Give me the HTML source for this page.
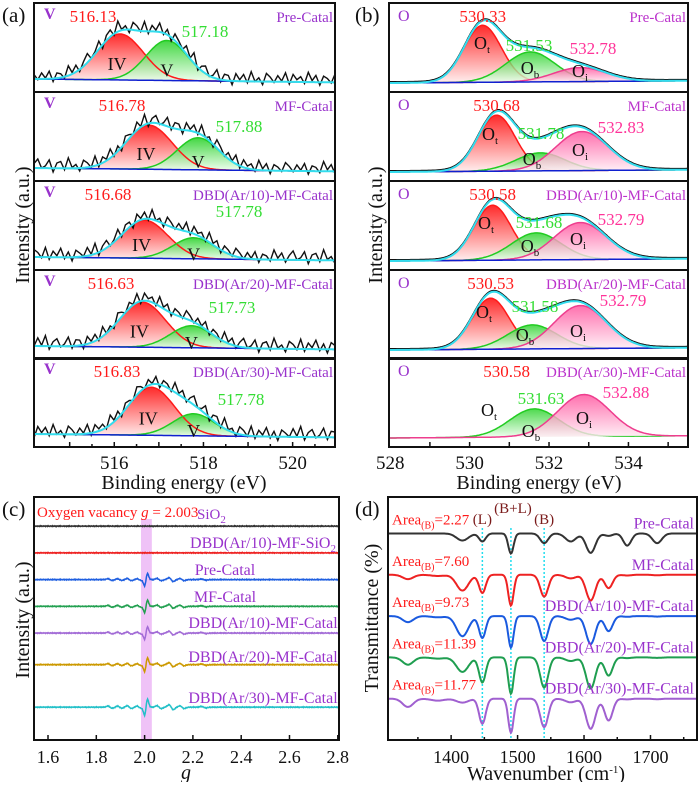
<!DOCTYPE html>
<html><head><meta charset="utf-8"><style>
html,body{margin:0;padding:0;background:#fff;}
svg, svg text{font-family:"Liberation Serif","Times New Roman",Times,"DejaVu Serif",serif;}
</style></head><body>
<svg id="fig" width="700" height="782" viewBox="0 0 700 782" xmlns="http://www.w3.org/2000/svg">
<defs>
<linearGradient id="gRed" x1="0" y1="0" x2="0" y2="1"><stop offset="0" stop-color="#ff2a2a"/><stop offset="1" stop-color="#fff0f0"/></linearGradient>
<linearGradient id="gGreen" x1="0" y1="0" x2="0" y2="1"><stop offset="0" stop-color="#22d022"/><stop offset="1" stop-color="#f0fff0"/></linearGradient>
<linearGradient id="gPink" x1="0" y1="0" x2="0" y2="1"><stop offset="0" stop-color="#ff4d9a"/><stop offset="1" stop-color="#fff0f6"/></linearGradient>
</defs>
<g id="pa"></g>
<g id="pb"></g>
<g id="pc"></g>
<g id="pd"></g>
</svg>
<script>
// ---------- data ----------
const sampleNames = ["Pre-Catal","MF-Catal","DBD(Ar/10)-MF-Catal","DBD(Ar/20)-MF-Catal","DBD(Ar/30)-MF-Catal"];
// panel a: V 2p3/2
const aIVCenter = [516.13,516.78,516.68,516.63,516.83];
const aIVHeight = [46,44,38,45,48];
const aVCenter  = [517.18,517.88,517.78,517.73,517.78];
const aVHeight  = [40,32,21,22,22];
const aTicks = [516,518,520];
const noise = [2,-5,4,-3,6,-8,3,1,-6,9,-2,5,-7,2,8,-4,-1,7,-9,3,5,-6,10,-3,1,-8,6,2,-5,9,-7,4,-2,8,-6,3,-9,5,1,-4,7,-3,10,-8,2,6,-5,-1,8,-7,4,3,-9,6,-2,5,-6,9,-4,1,-8,7,2,-5,4,-3,8,-7,6,-1,3,-6,9,-2,5,-8,4,1,-5,7];
// panel b: O 1s
const bOtCenter = [530.33,530.68,530.58,530.53,530.58];
const bOtHeight = [57,56,55,51,0];
const bObCenter = [531.53,531.78,531.68,531.58,531.63];
const bObHeight = [30,18,27,24,28];
const bOiCenter = [532.78,532.83,532.79,532.79,532.88];
const bOiHeight = [14,39,37,43,42];
const bTicks = [528,530,532,534];
// panel c: EPR
const cNames = ["SiO2","DBD(Ar/10)-MF-SiO2","Pre-Catal","MF-Catal","DBD(Ar/10)-MF-Catal","DBD(Ar/20)-MF-Catal","DBD(Ar/30)-MF-Catal"];
const cLevels = [88,77,66,55,44,31,13.5];
const cAmp = [0,0,1,1,1,1.1,1.3];
const cFeatG = [1.857,1.897,1.937,1.977,2.006,2.06,2.11,2.155,2.245];
const cFeatA = [0.35,0.35,0.45,0.35,-2.6,0.45,0.8,0.45,0.25];
const cTicks = [1.6,1.8,2.0,2.2,2.4,2.6,2.8];
// panel d: Py-IR
const dCenters = [1335,1380,1417,1447,1490,1540,1580,1610,1637,1665,1710];
const dWidths  = [8,10,9,5,4,6,8,7,6,6,7];
const dDepthPre = [0,0,2.9,3.3,8.3,4,3.3,8,1,5,4];
const dDepthMF  = [1.8,0.5,6.5,7.5,12.7,9,1.5,10.6,5.5,0.3,0.2];
const dDepthD10 = [2.5,0.5,8.3,9,13,10.3,1.5,11.5,6.2,0.3,0.2];
const dDepthD20 = [3,0.5,6,10.3,15,12.4,1.5,12.8,7.5,0.3,0.2];
const dDepthD30 = [3.4,0.8,1.6,10.3,14,11.7,1.5,12.4,9,0.3,0.2];
const dLevels = [85,68,51,34,17];
const dArea = ["2.27","7.60","9.73","11.39","11.77"];
const dLines = [1447,1490,1540];
const dTicks = [1400,1500,1600,1700];

// ---------- helpers ----------
const NS="http://www.w3.org/2000/svg";
const FF="'Liberation Serif','Times New Roman',Times,serif";
function lin(d0,d1,r0,r1){return v=>r0+(v-d0)/(d1-d0)*(r1-r0);}
function mk(parent,tag,attrs){const e=document.createElementNS(NS,tag);for(const k in attrs)e.setAttribute(k,attrs[k]);if(tag=="text")e.style.fontFamily=FF;parent.appendChild(e);return e;}
function txt(parent,x,y,s,attrs){const e=mk(parent,"text",Object.assign({x:x,y:y},attrs||{}));e.innerHTML=s;return e;}
function gauss(x,c,h,s){return h*Math.exp(-(x-c)*(x-c)/(2*s*s));}
function pathD(pts){return pts.map((p,i)=>(i?"L":"M")+p[0].toFixed(1)+","+p[1].toFixed(1)).join("");}

// ---------- panel a ----------
(function(){
const g=document.getElementById("pa");
const xa=lin(514.2,520.95,34,335);
const tops=[3,92,181,270,358];const hh=89;
const redX=[93,122,108,111,117];
const grnX=[205,239,239,232,241], grnDY=[29,35,31,38,42];
for(let k=0;k<5;k++){
  const t=tops[k];const base=t+76;
  const sub=mk(g,"g",{});
  
  
  const by=x=>base+ (x-514.2)*0.5;
  const n=200,ptsIV=[],ptsV=[],env=[],bl=[];
  for(let i=0;i<=n;i++){const x=514.2+i*(6.75/n);
    const iv=gauss(x,aIVCenter[k],aIVHeight[k],0.52), v=gauss(x,aVCenter[k],aVHeight[k],0.47);
    ptsIV.push([xa(x),by(x)-iv]);ptsV.push([xa(x),by(x)-v]);env.push([xa(x),by(x)-iv-v]);bl.push([xa(x),by(x)]);}
  const fIV=mk(sub,"path",{d:pathD(ptsIV)+"L"+xa(520.95)+","+by(520.95)+"L34,"+by(514.2)+"Z",fill:"url(#gRed)",stroke:"none"});
  
  const fV=mk(sub,"path",{d:pathD(ptsV)+"L"+xa(520.95)+","+by(520.95)+"L34,"+by(514.2)+"Z",fill:"url(#gGreen)","fill-opacity":"0.85",stroke:"none"});
  
  const lIV=mk(sub,"path",{d:pathD(ptsIV),fill:"none",stroke:"#ff1a1a","stroke-width":1.5});
  
  const lV=mk(sub,"path",{d:pathD(ptsV),fill:"none",stroke:"#22cc22","stroke-width":1.5});
  
  const raw=[];const m=noise.length;
  for(let i=0;i<m;i++){const x=514.2+i*(6.75/(m-1));
    const iv=gauss(x,aIVCenter[k],aIVHeight[k],0.52), v=gauss(x,aVCenter[k],aVHeight[k],0.47);
    raw.push([xa(x),by(x)-iv-v-noise[(i+k*13)%m]*0.75-3]);}
  const r=mk(sub,"path",{d:pathD(raw),fill:"none",stroke:"#111","stroke-width":1.4});
  
  const bb=mk(sub,"path",{d:pathD(bl),fill:"none",stroke:"#1020d0","stroke-width":1.5});
  
  const e=mk(sub,"path",{d:pathD(env),fill:"none",stroke:"#33ddee","stroke-width":2});
  
  mk(sub,"text",{x:xa(aIVCenter[k])-3,y:by(aIVCenter[k])-aIVHeight[k]*0.35+6,"font-size":18,"text-anchor":"middle",fill:"#111"}).textContent="IV";
  mk(sub,"text",{x:xa(aVCenter[k]),y:by(aVCenter[k])-aVHeight[k]*0.3+8,"font-size":18,"text-anchor":"middle",fill:"#111"}).textContent="V";
  const el=txt(sub,44,t+16,"V",{"font-size":16,fill:"#9933cc","font-weight":"bold"});
  
  const rl=txt(sub,redX[k],t+19,aIVCenter[k].toFixed(2),{"font-size":17,fill:"#ff1a1a","text-anchor":"middle"});
  
  const gl=txt(sub,grnX[k],t+grnDY[k]+5,aVCenter[k].toFixed(2),{"font-size":17,fill:"#33dd33","text-anchor":"middle"});
  
  const sl=txt(sub,333,t+19,sampleNames[k],{"font-size":15,fill:"#9933cc","text-anchor":"end"});
  
  const fr=mk(sub,"rect",{x:34,y:t,width:301,height:(k==4?447-t:hh),fill:"none",stroke:"#111","stroke-width":2});
  
}
for(let v=515;v<=520.5;v+=0.5){const x=xa(v);const L=(v%1==0)?5:3;mk(g,"line",{x1:x,y1:447,x2:x,y2:447-L,stroke:"#111","stroke-width":1.5});}
aTicks.forEach(v=>{const tl=txt(g,xa(v),469,v,{"font-size":19,"text-anchor":"middle",fill:"#111"});});
const xt=txt(g,184,489,"Binding energy (eV)",{"font-size":20,"text-anchor":"middle",fill:"#111"});
const yt=txt(g,0,0,"Intensity (a.u.)",{"font-size":20,"text-anchor":"middle",fill:"#111",transform:"translate(29,225) rotate(-90)"});
const pl=txt(g,2,22,"(a)",{"font-size":21,fill:"#111"});
})();

// ---------- panel b ----------
(function(){
const g=document.getElementById("pb");
const xb=lin(527.97,535.5,389,688);
const tops=[3,92,181,270,358];const hh=89;
const obX=[529,541,539,535,541], obDY=[42,41,41,36,40];
const oiX=[593,621,621,623,626], oiDY=[45,35,38,30,34];
const otLX=[482,490,486,484,489], otLY=[42,44,44,44,54];
const obLX=[530,532,530,525,531], obLY=[67,69,67,67,75];
const oiLX=[580,580,578,578,584], oiLY=[70,60,60,63,62];
for(let k=0;k<5;k++){
  const t=tops[k];const base=t+80;
  const sub=mk(g,"g",{});
  
  
  const by=x=>base-(x-528)*0.3;
  const n=220,pt=[],pb=[],pi=[],env=[],bl=[];
  for(let i=0;i<=n;i++){const x=527.97+i*(7.53/n);
    const a=gauss(x,bOtCenter[k],bOtHeight[k],0.47),b=gauss(x,bObCenter[k],bObHeight[k],0.62),c=gauss(x,bOiCenter[k],bOiHeight[k],0.66);
    pt.push([xb(x),by(x)-a]);pb.push([xb(x),by(x)-b]);pi.push([xb(x),by(x)-c]);env.push([xb(x),by(x)-a-b-c]);bl.push([xb(x),by(x)]);}
  const close="L"+xb(535.5)+","+by(535.5)+"L389,"+by(527.97)+"Z";
  [[pt,"url(#gRed)","#ff1a1a","ot"],[pb,"url(#gGreen)","#22cc22","ob"],[pi,"url(#gPink)","#ee3d8e","oi"]].forEach((q,j)=>{
    if(k==4&&j==0)return;
    const f=mk(sub,"path",{d:pathD(q[0])+close,fill:q[1],"fill-opacity":j?0.8:1,stroke:"none"});
    
    const l=mk(sub,"path",{d:pathD(q[0]),fill:"none",stroke:q[2],"stroke-width":1.5});
    
  });
  if(k<4){
    const r=mk(sub,"path",{d:pathD(env.map(p=>[p[0],p[1]-1.2])),fill:"none",stroke:"#111","stroke-width":1.5});
    
    const bb=mk(sub,"path",{d:pathD(bl),fill:"none",stroke:"#1020d0","stroke-width":1.5});
    
    const e=mk(sub,"path",{d:pathD(env),fill:"none",stroke:"#33ddee","stroke-width":2});
    
  }
  const lab=(x,y,s)=>{const e=txt(sub,x,y,"O<tspan font-size='11' dy='4'>"+s+"</tspan>",{"font-size":18,fill:"#111","text-anchor":"middle"});};
  lab(otLX[k],t+otLY[k]+4,"t");
  lab(obLX[k],t+obLY[k]+4,"b");
  lab(oiLX[k],t+oiLY[k]+4,"i");
  const el=txt(sub,398,t+18,"O",{"font-size":16,fill:"#9933cc"});
  const rl=txt(sub,xb(bOtCenter[k])+(k==4?14:0),t+19,bOtCenter[k].toFixed(2),{"font-size":17,fill:"#ff1a1a","text-anchor":"middle"});
  const gl=txt(sub,obX[k],t+obDY[k]+6,bObCenter[k].toFixed(2),{"font-size":17,fill:"#33dd33","text-anchor":"middle"});
  const il=txt(sub,oiX[k],t+oiDY[k]+6,bOiCenter[k].toFixed(2),{"font-size":17,fill:"#ff3399","text-anchor":"middle"});
  const sl=txt(sub,686,t+19,sampleNames[k],{"font-size":15,fill:"#bb33cc","text-anchor":"end"});
  const fr=mk(sub,"rect",{x:389,y:t,width:299,height:(k==4?447-t:hh),fill:"none",stroke:"#111","stroke-width":2});
  
}
for(let v=529;v<=535;v+=1){const x=xb(v);mk(g,"line",{x1:x,y1:447,x2:x,y2:442,stroke:"#111","stroke-width":1.5});}
bTicks.forEach(v=>{const tl=txt(g,xb(v),469,v,{"font-size":19,"text-anchor":"middle",fill:"#111"});});
const xt=txt(g,539,489,"Binding energy (eV)",{"font-size":20,"text-anchor":"middle",fill:"#111"});
const yt=txt(g,0,0,"Intensity (a.u.)",{"font-size":20,"text-anchor":"middle",fill:"#111",transform:"translate(382,225) rotate(-90)"});
const pl=txt(g,355,22,"(b)",{"font-size":21,fill:"#111"});
})();

// ---------- panel c ----------
(function(){
const g=document.getElementById("pc");
const xc=lin(1.542,2.805,34,339), yc=lin(0,100,740,497);
const band=mk(g,"rect",{x:xc(1.985),y:519,width:xc(2.03)-xc(1.985),height:221,fill:"#e8a8f4","fill-opacity":0.7});

const cols=["#333","#ee2222","#1f5fe0","#22a050","#a26bd6","#cc9900","#22c0c8"];
for(let k=0;k<7;k++){
  const pts=[];const n=500;
  for(let i=0;i<=n;i++){const x=1.545+i*(1.257/n);let v=cLevels[k];
    for(let j=0;j<cFeatG.length;j++){const s=(j==4?0.006:0.009);const u=(x-cFeatG[j])/s;v+=cAmp[k]*cFeatA[j]*(-u)*Math.exp(-u*u/2)*1.6;}
    v+=noise[i%noise.length]*0.02;
    pts.push([xc(x),yc(v)]);}
  const p=mk(g,"path",{d:pathD(pts),fill:"none",stroke:cols[k],"stroke-width":1.5});
  
}
const labY=[0,542,569,596,622,656,697], labX=[0,263,225,225,263,263,263];
for(let k=1;k<7;k++){const s=cNames[k].replace("SiO2","SiO<tspan font-size='11' dy='4'>2</tspan>");
  const t=txt(g,labX[k],labY[k]+6,s,{"font-size":16,fill:"#9933cc","text-anchor":"middle"});}
const ov=txt(g,37,517,"Oxygen vacancy <tspan font-style='italic'>g</tspan> = 2.003",{"font-size":15,fill:"#ff1a1a"});
const si=txt(g,197,519,"SiO<tspan font-size='11' dy='4'>2</tspan>",{"font-size":15,fill:"#9933cc"});
const fr=mk(g,"rect",{x:34,y:497,width:305,height:243,fill:"none",stroke:"#111","stroke-width":2});
cTicks.forEach(v=>{const x=xc(v);mk(g,"line",{x1:x,y1:740,x2:x,y2:735,stroke:"#111","stroke-width":1.5});
  const tl=txt(g,x,763,v.toFixed(1),{"font-size":18,"text-anchor":"middle",fill:"#111"});});
const xt=txt(g,186,779,"g",{"font-size":20,"font-style":"italic","text-anchor":"middle",fill:"#111"});
const yt=txt(g,0,0,"Intensity (a.u.)",{"font-size":20,"text-anchor":"middle",fill:"#111",transform:"translate(29,620) rotate(-90)"});
const pl=txt(g,2,516,"(c)",{"font-size":21,fill:"#111"});
})();

// ---------- panel d ----------
(function(){
const g=document.getElementById("pd");
const xd=lin(1305,1770,388,697), yd=lin(0,100,740,497);
const depths=[dDepthPre,dDepthMF,dDepthD10,dDepthD20,dDepthD30];
const cols=["#333","#ee2222","#1a5adf","#1f9e50","#a060d0"];
dLines.forEach(v=>{const l=mk(g,"line",{x1:xd(v),y1:528,x2:xd(v),y2:740,stroke:"#22ddee","stroke-width":1.5,"stroke-dasharray":"2,2"});});
for(let k=0;k<5;k++){
  const pts=[];const n=400;
  for(let i=0;i<=n;i++){const x=1305+i*(465/n);let v=dLevels[k];
    for(let j=0;j<dCenters.length;j++)v-=gauss(x,dCenters[j],depths[k][j],dWidths[j]);
    pts.push([xd(x),yd(v)]);}
  const p=mk(g,"path",{d:pathD(pts),fill:"none",stroke:cols[k],"stroke-width":2});
  
  const ly=yd(dLevels[k]);
  const a=txt(g,392,ly-9,"Area<tspan font-size='10' dy='4'>(B)</tspan><tspan dy='-4'>="+dArea[k]+"</tspan>",{"font-size":15,fill:"#ff1a1a"});
  
  const s=txt(g,694,ly-5,sampleNames[k],{"font-size":16,fill:"#9933cc","text-anchor":"end"});
  
}
const bl=[["(L)",xd(1447),524],["(B+L)",xd(1490)+2,513],["(B)",xd(1540),524]];
bl.forEach(b=>{const t=txt(g,b[1],b[2],b[0],{"font-size":15,fill:"#7a1a1a","text-anchor":"middle"});});
const fr=mk(g,"rect",{x:388,y:497,width:309,height:243,fill:"none",stroke:"#111","stroke-width":2});
for(let v=1350;v<=1750;v+=50){const x=xd(v);mk(g,"line",{x1:x,y1:740,x2:x,y2:(v%100==0?735:737),stroke:"#111","stroke-width":1.5});}
dTicks.forEach(v=>{const tl=txt(g,xd(v),763,v,{"font-size":18,"text-anchor":"middle",fill:"#111"});});
const xt=txt(g,546,780,"Wavenumber (cm<tspan font-size='11' dy='-7'>-1</tspan><tspan dy='7'>)</tspan>",{"font-size":20,"text-anchor":"middle",fill:"#111"});
const yt=txt(g,0,0,"Transmittance (%)",{"font-size":20,"text-anchor":"middle",fill:"#111",transform:"translate(378,618) rotate(-90)"});
const pl=txt(g,355,516,"(d)",{"font-size":21,fill:"#111"});
})();
</script>
</body></html>
